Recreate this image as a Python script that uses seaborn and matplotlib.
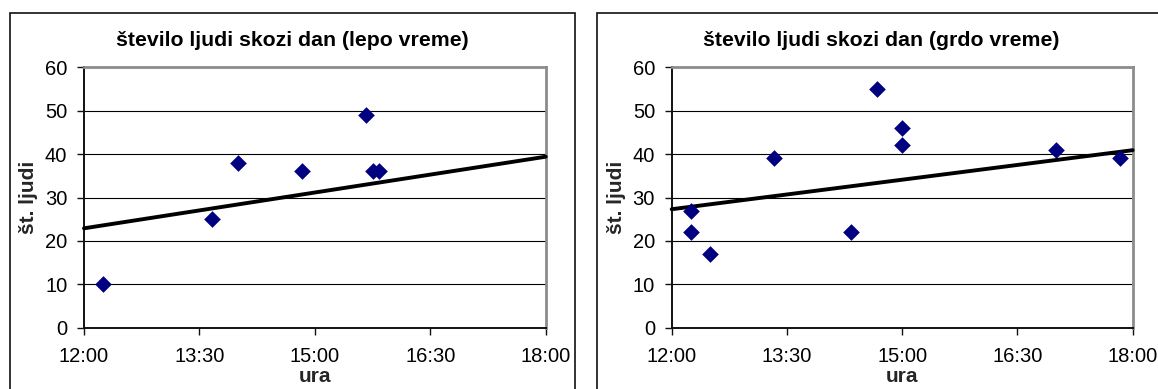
import matplotlib
matplotlib.use("Agg")
import matplotlib.pyplot as plt
from matplotlib.patches import Rectangle
import seaborn as sns
import pandas as pd

# Counts of people through the day, fair and bad weather
times_lepo = ["12:15", "13:40", "14:00", "14:50", "15:40", "15:45", "15:50"]
ljudi_lepo = [10, 25, 38, 36, 49, 36, 36]

times_grdo = ["12:15", "12:15", "12:30", "13:20", "14:20", "14:40",
              "15:00", "15:00", "17:00", "17:50"]
ljudi_grdo = [27, 22, 17, 39, 22, 55, 46, 42, 41, 39]

# Linear trend lines (value at the start and end of the axis)
trend_times = ["12:00", "18:00"]
trend_lepo = [22.9, 39.4]
trend_grdo = [27.3, 40.9]

x_ticks = ["12:00", "13:30", "15:00", "16:30", "18:00"]
y_ticks = [0, 10, 20, 30, 40, 50, 60]

titles = ["število ljudi skozi dan (lepo vreme)",
          "število ljudi skozi dan (grdo vreme)"]
x_label = "ura"
y_label = "št. ljudi"


def to_hours(t):
    h, m = t.split(":")
    return int(h) + int(m) / 60.0


sns.set_style("white")
plt.rcParams["font.family"] = ["Liberation Sans", "DejaVu Sans"]

W, H = 1158, 389
fig = plt.figure(figsize=(W / 100, H / 100), dpi=100)
fig.patch.set_facecolor("white")

panels = [
    dict(times=times_lepo, vals=ljudi_lepo, trend=trend_lepo, title=titles[0],
         ax_px=(84, 545.7), box_px=(9.7, 575), title_x=292),
    dict(times=times_grdo, vals=ljudi_grdo, trend=trend_grdo, title=titles[1],
         ax_px=(671.7, 1132.7), box_px=(596.7, 1165), title_x=881),
]

y_top_px, y_bot_px = 67.3, 327.7

for p in panels:
    # chart frame
    bx0, bx1 = p["box_px"]
    fig.add_artist(Rectangle((bx0 / W, (H - 420) / H), (bx1 - bx0) / W, (420 - 12.7) / H,
                             transform=fig.transFigure, fill=False,
                             edgecolor="#111111", linewidth=1.2, clip_on=False))
    fig.text(p["title_x"] / W, (H - 46.5) / H, p["title"], ha="center", va="baseline",
             fontsize=15.3, fontweight="bold", color="black")

    x0, x1 = p["ax_px"]
    ax = fig.add_axes([x0 / W, (H - y_bot_px) / H, (x1 - x0) / W, (y_bot_px - y_top_px) / H])
    ax.set_facecolor("white")

    df = pd.DataFrame({"ura": [to_hours(t) for t in p["times"]], "ljudi": p["vals"]})
    tr = pd.DataFrame({"ura": [to_hours(t) for t in trend_times], "ljudi": p["trend"]})

    # horizontal gridlines
    for v in y_ticks[1:-1]:
        ax.axhline(v, color="black", linewidth=0.8, zorder=1)

    sns.lineplot(data=tr, x="ura", y="ljudi", ax=ax, color="black", linewidth=2.8,
                 zorder=3, clip_on=False)
    sns.scatterplot(data=df, x="ura", y="ljudi", ax=ax, marker="D", s=72,
                    color="#000080", edgecolor="#000080", linewidth=0, zorder=4)

    ax.set_xlim(12, 18)
    ax.set_ylim(0, 60)
    ax.set_xticks([to_hours(t) for t in x_ticks])
    ax.set_xticklabels(x_ticks)
    ax.set_yticks(y_ticks)
    ax.set_yticklabels([str(v) for v in y_ticks])

    for side in ("top", "right"):
        ax.spines[side].set_color("#8c8c8c")
        ax.spines[side].set_linewidth(2.0)
    for side in ("left", "bottom"):
        ax.spines[side].set_color("#111111")
        ax.spines[side].set_linewidth(1.4)

    ax.tick_params(axis="both", direction="out", length=5, width=1.0, color="#111111",
                   labelsize=14.5, labelcolor="black")
    ax.tick_params(axis="x", pad=9, bottom=True)
    ax.tick_params(axis="y", pad=7, left=True)

    ax.set_xlabel(x_label, fontsize=15, fontweight="bold", labelpad=0.5)
    ax.set_ylabel(y_label, fontsize=15, fontweight="bold", labelpad=5)

fig.savefig("out.png", dpi=100, facecolor="white")
